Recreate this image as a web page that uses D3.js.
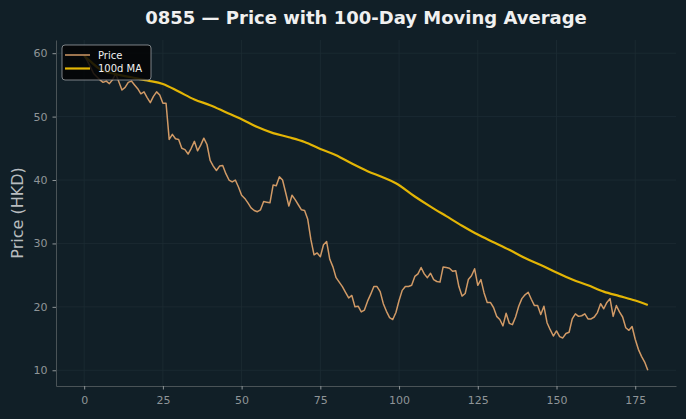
<!DOCTYPE html>
<html>
<head>
<meta charset="utf-8">
<script src="https://cdn.jsdelivr.net/npm/d3@7"></script>
<style>
  html, body { margin: 0; padding: 0; background: #111f27; }
  svg { display: block; font-family: "DejaVu Sans", sans-serif; }
</style>
</head>
<body>
<svg id="chart" width="686" height="419"></svg>
<script>
// daily closes, day 0..179
var price = [
  59.6, 58.8, 57.8, 56.8, 56.3, 55.8, 55.4, 55.6, 55.2, 55.8,
  56.8, 55.5, 54.2, 54.6, 55.4, 55.6, 55.0, 54.4, 53.6, 53.9,
  53.0, 52.2, 53.2, 53.9, 53.4, 52.1, 52.1, 46.4, 47.2, 46.5,
  46.4, 45.0, 44.8, 44.1, 45.0, 46.1, 44.6, 45.5, 46.6, 45.6,
  43.1, 42.2, 41.5, 42.2, 42.3, 41.0, 40.0, 39.7, 40.0, 38.9,
  37.6, 37.1, 36.4, 35.6, 35.2, 35.0, 35.3, 36.6, 36.5, 36.4,
  39.2, 39.1, 40.5, 40.0, 38.0, 35.9, 37.6, 36.9, 36.1, 35.3,
  35.2, 33.8, 30.6, 28.2, 28.5, 27.9, 29.8, 30.3, 27.5, 26.3,
  24.6, 23.9, 23.2, 22.3, 21.4, 21.8, 20.0, 20.1, 19.2, 19.5,
  20.9, 22.0, 23.2, 23.2, 22.4, 20.5, 19.3, 18.3, 18.0, 19.1,
  21.0, 22.6, 23.2, 23.2, 23.4, 24.8, 25.2, 26.2, 25.2, 24.6,
  25.3, 24.3, 24.0, 23.9, 26.3, 26.2, 26.1, 25.6, 25.7, 23.2,
  21.7, 22.1, 24.3, 24.9, 26.0, 23.4, 24.3, 22.2, 20.7, 20.7,
  19.9, 18.5, 18.0, 17.0, 19.0, 17.4, 17.2, 18.4, 20.1, 21.3,
  21.9, 22.3, 21.2, 20.2, 20.2, 18.8, 20.1, 17.5, 16.4, 15.4,
  16.2, 15.3, 15.1, 15.8, 16.0, 18.1, 18.9, 18.5, 18.6, 18.9,
  18.1, 18.1, 18.4, 19.1, 20.5, 19.7, 20.7, 21.3, 18.5, 20.2,
  19.2, 18.4, 16.7, 16.3, 16.9, 14.9, 13.3, 12.2, 11.3, 10.0
];

var maDays = [0, 2, 5, 10, 15, 20, 25, 30, 35, 40, 45, 50, 55, 60, 65, 70, 75, 80, 85,
  90, 95, 99, 105, 110, 115, 120, 125, 130, 135, 140, 145, 150, 155, 160, 165, 170, 175, 179];
var maValues = [59.6, 58.7, 57.5, 56.7, 56.2, 55.7, 55.15, 53.95, 52.7, 51.8, 50.7, 49.6, 48.35,
  47.4, 46.75, 46.0, 44.9, 43.9, 42.6, 41.4, 40.4, 39.5, 37.4, 35.8, 34.3, 32.8, 31.4,
  30.2, 29.0, 27.7, 26.6, 25.4, 24.3, 23.4, 22.4, 21.7, 21.0, 20.3];

var xTicks = [0, 25, 50, 75, 100, 125, 150, 175];
var yTicks = [10, 20, 30, 40, 50, 60];

var svg = d3.select("#chart");
var margin = {top: 40, right: 10, bottom: 33, left: 56},
    width = +svg.attr("width") - margin.left - margin.right,
    height = +svg.attr("height") - margin.top - margin.bottom;

var priceCol = "#d19a66", maCol = "#e3b505";

// matplotlib-style 5% padding
var n = price.length - 1;
var yMin = d3.min(price), yMax = d3.max(price);
var x = d3.scaleLinear().domain([-n * 0.05, n * 1.05]).range([0, width]);
var y = d3.scaleLinear()
    .domain([yMin - (yMax - yMin) * 0.05, yMax + (yMax - yMin) * 0.05])
    .range([height, 0]);

var g = svg.append("g")
    .attr("transform", "translate(" + margin.left + "," + margin.top + ")");

// grid
g.append("g").selectAll("line").data(xTicks).enter().append("line")
    .attr("x1", function(d) { return x(d); }).attr("x2", function(d) { return x(d); })
    .attr("y1", 0).attr("y2", height)
    .attr("stroke", "#1d2c34").attr("stroke-width", 0.8);
g.append("g").selectAll("line").data(yTicks).enter().append("line")
    .attr("y1", function(d) { return y(d); }).attr("y2", function(d) { return y(d); })
    .attr("x1", 0).attr("x2", width)
    .attr("stroke", "#1d2c34").attr("stroke-width", 0.8);

// axes
var xAxis = g.append("g")
    .attr("transform", "translate(0," + height + ")")
    .call(d3.axisBottom(x).tickValues(xTicks).tickSize(3.5).tickPadding(7).tickSizeOuter(0));
var yAxis = g.append("g")
    .call(d3.axisLeft(y).tickValues(yTicks).tickSize(3.5).tickPadding(5).tickSizeOuter(0));

[xAxis, yAxis].forEach(function(a) {
    a.select(".domain").attr("stroke", "#4a5357").attr("stroke-width", 1);
    a.selectAll(".tick line").attr("stroke", "#8f9598");
    a.selectAll(".tick text").attr("fill", "#8f9598")
        .style("font-size", "11px").style("font-family", "DejaVu Sans");
});

// lines
var priceLine = d3.line()
    .x(function(d, i) { return x(i); })
    .y(function(d) { return y(d); });

g.append("path")
    .datum(price)
    .attr("fill", "none")
    .attr("stroke", priceCol)
    .attr("stroke-width", 1.5)
    .attr("stroke-linejoin", "round")
    .attr("d", priceLine);

var maLine = d3.line()
    .x(function(d, i) { return x(maDays[i]); })
    .y(function(d) { return y(d); })
    .curve(d3.curveMonotoneX);

g.append("path")
    .datum(maValues)
    .attr("fill", "none")
    .attr("stroke", maCol)
    .attr("stroke-width", 2.2)
    .attr("d", maLine);

// legend
var leg = g.append("g").attr("transform", "translate(6,5)");
leg.append("rect")
    .attr("width", 89).attr("height", 35)
    .attr("rx", 3).attr("ry", 3)
    .attr("fill", "#030405").attr("fill-opacity", 0.85)
    .attr("stroke", "#9aa0a3").attr("stroke-width", 0.8);
var items = [{name: "Price", col: priceCol, w: 1.5}, {name: "100d MA", col: maCol, w: 2.2}];
items.forEach(function(it, i) {
    var cy = 10 + i * 13.5;
    leg.append("line")
        .attr("x1", 3).attr("x2", 28).attr("y1", cy).attr("y2", cy)
        .attr("stroke", it.col).attr("stroke-width", it.w);
    leg.append("text")
        .attr("x", 36).attr("y", cy).attr("dy", "0.35em")
        .attr("fill", "#f0f0f0")
        .style("font-size", "10px")
        .text(it.name);
});

// title and y label
svg.append("text")
    .attr("x", margin.left + width / 2).attr("y", 24)
    .attr("text-anchor", "middle")
    .attr("fill", "#f0f0f0")
    .style("font-size", "18px").style("font-weight", "bold")
    .text("0855 — Price with 100-Day Moving Average");

svg.append("text")
    .attr("transform", "translate(23," + (margin.top + height / 2) + ") rotate(-90)")
    .attr("text-anchor", "middle")
    .attr("fill", "#b8bcbf")
    .style("font-size", "16px")
    .text("Price (HKD)");
</script>
</body>
</html>
